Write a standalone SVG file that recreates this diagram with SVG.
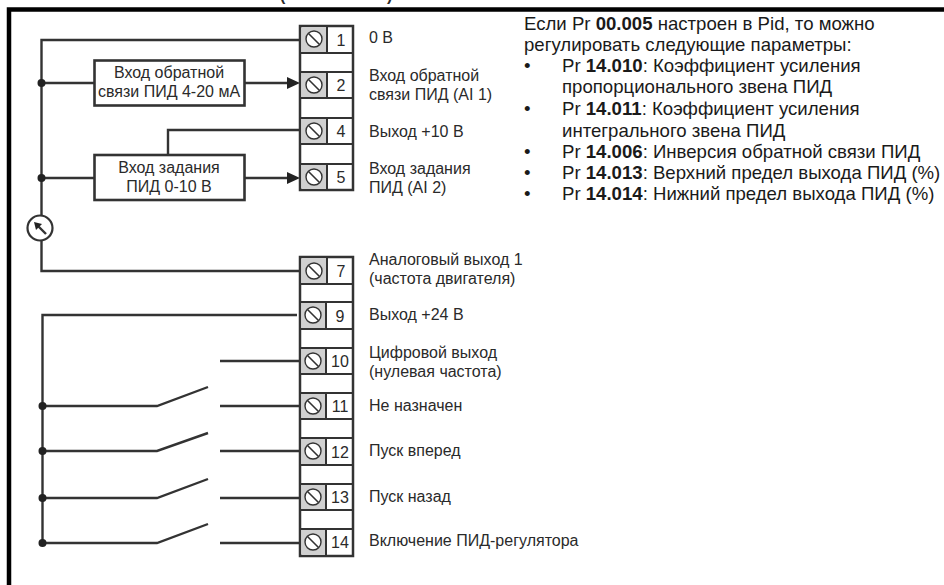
<svg xmlns="http://www.w3.org/2000/svg" width="944" height="585" viewBox="0 0 944 585">
<style>
text{font-family:"Liberation Sans",Arial,sans-serif;font-size:16px;fill:#2a2a2a}
.w{fill:none;stroke:#333;stroke-width:2.4}
.b{fill:#fff;stroke:#333;stroke-width:2.6}
.g{fill:#d0d0d0}
.n{fill:none;stroke:#333;stroke-width:2}
.s{fill:#fff;stroke:#333;stroke-width:1.4}
.c{text-anchor:middle}
.d{fill:#222}
#notes text{font-size:18.600px;fill:#1a1a1a}
</style>
<defs>
<g id="screw"><circle cx="0" cy="0" r="8" class="s"/><line x1="-5.500" y1="-5.500" x2="5.500" y2="5.500" stroke="#333" stroke-width="1.6"/></g>
</defs>
<path d="M9 600V9.500H950" fill="none" stroke="#000" stroke-width="4.500"/>
<text x="280" y="1" font-weight="bold">(</text><text x="387" y="1" font-weight="bold">)</text>
<g id="connectors">
<path class="w" d="M300 40H41.500V215"/>
<path class="w" d="M41.500 83H94M245 83H288M168 155V130H300M41.500 178H94M245 178H288"/>
<circle cx="40" cy="228" r="12.500" fill="#fff" stroke="#333" stroke-width="2.200"/>
<path class="w" d="M46 234L37 225" stroke-width="2"/>
<path d="M34 222L42 224L36 230Z" class="d"/>
<path class="w" d="M41.500 240V271H300M297 315H42.500V543"/>
<path class="w" d="M220 361H300M42.500 406H157L208 387M220 406H300M42.500 451H157L208 433M220 451H300M42.500 498H157L208 479M220 498H300M42.500 543H157L208 524M220 543H300"/>
<path d="M300 83l-13-6v12zM300 178l-13-6v12z" class="d"/>
<g class="d"><circle cx="41.500" cy="83" r="4"/><circle cx="41.500" cy="178" r="4"/><circle cx="42.500" cy="406" r="4"/><circle cx="42.500" cy="451" r="4"/><circle cx="42.500" cy="498" r="4"/><circle cx="42.500" cy="543" r="4"/></g>
</g>
<g id="box-feedback"><rect class="b" x="94.500" y="60.500" width="150" height="45"/><text class="c" x="169" y="78">Вход обратной</text><text class="c" x="169" y="97">связи ПИД 4-20 мА</text></g>
<g id="box-reference"><rect class="b" x="94.500" y="155" width="150" height="45"/><text class="c" x="169" y="173">Вход задания</text><text class="c" x="169" y="192">ПИД 0-10 В</text></g>
<g id="terminal-block-a">
<rect x="300" y="26" width="53" height="164" fill="#fff" stroke="#333" stroke-width="2.500"/>
<path class="g" d="M302 27H327V52H302zM302 73H327V97H302zM302 119H327V143H302zM302 165H327V189H302z"/>
<path class="n" d="M300 53H353M300 72H353M300 98H353M300 118H353M300 144H353M300 164H353"/>
<path class="n" d="M327 26V53M327 72V98M327 118V144M327 164V190"/>
</g>
<g id="terminal-1"><use href="#screw" x="314" y="39"/><text class="c" x="341" y="46">1</text></g>
<g id="terminal-2"><use href="#screw" x="314" y="85"/><text class="c" x="341" y="91">2</text></g>
<g id="terminal-4"><use href="#screw" x="314" y="131"/><text class="c" x="341" y="137">4</text></g>
<g id="terminal-5"><use href="#screw" x="314" y="177"/><text class="c" x="341" y="183">5</text></g>
<g id="terminal-block-b">
<rect x="300" y="257" width="53" height="299" fill="#fff" stroke="#333" stroke-width="2.500"/>
<path class="g" d="M302 258H327V283H302zM302 303H325V328H302zM302 349H325V373H302zM302 394H325V418H302zM302 439H325V464H302zM302 485H325V509H302zM302 530H325V555H302z"/>
<path class="n" d="M300 284H353M300 302H353M300 329H353M300 348H353M300 374H353M300 393H353M300 419H353M300 438H353M300 465H353M300 484H353M300 510H353M300 529H353"/>
<path class="n" d="M327 257V284M326 302V329M326 348V374M326 393V419M326 438V465M326 484V510M326 529V556"/>
</g>
<g id="terminal-7"><use href="#screw" x="314" y="271"/><text class="c" x="341" y="277">7</text></g>
<g id="terminal-9"><use href="#screw" x="313" y="315"/><text class="c" x="340" y="322">9</text></g>
<g id="terminal-10"><use href="#screw" x="313" y="361"/><text class="c" x="340" y="367">10</text></g>
<g id="terminal-11"><use href="#screw" x="313" y="406"/><text class="c" x="340" y="412">11</text></g>
<g id="terminal-12"><use href="#screw" x="313" y="451"/><text class="c" x="340" y="458">12</text></g>
<g id="terminal-13"><use href="#screw" x="313" y="497"/><text class="c" x="340" y="503">13</text></g>
<g id="terminal-14"><use href="#screw" x="313" y="542"/><text class="c" x="340" y="548">14</text></g>
<g id="labels">
<text x="369" y="43">0 В</text>
<text x="369" y="81">Вход обратной</text><text x="369" y="100">связи ПИД (AI 1)</text>
<text x="369" y="137">Выход +10 В</text>
<text x="369" y="174">Вход задания</text><text x="369" y="193">ПИД (AI 2)</text>
<text x="369" y="265">Аналоговый выход 1</text><text x="369" y="284">(частота двигателя)</text>
<text x="369" y="320">Выход +24 В</text>
<text x="369" y="358">Цифровой выход</text><text x="369" y="377">(нулевая частота)</text>
<text x="369" y="411">Не назначен</text>
<text x="369" y="456">Пуск вперед</text>
<text x="369" y="502">Пуск назад</text>
<text x="369" y="546">Включение ПИД-регулятора</text>
</g>
<g id="notes">
<text x="524" y="30">Если Pr <tspan font-weight="bold">00.005</tspan> настроен в Pid, то можно</text>
<text x="524" y="51">регулировать следующие параметры:</text>
<text x="524" y="72">•</text><text x="562" y="72">Pr <tspan font-weight="bold">14.010</tspan>: Коэффициент усиления</text>
<text x="562" y="93">пропорционального звена ПИД</text>
<text x="524" y="115">•</text><text x="562" y="115">Pr <tspan font-weight="bold">14.011</tspan>: Коэффициент усиления</text>
<text x="562" y="137">интегрального звена ПИД</text>
<text x="524" y="158">•</text><text x="562" y="158">Pr <tspan font-weight="bold">14.006</tspan>: Инверсия обратной связи ПИД</text>
<text x="524" y="179">•</text><text x="562" y="179">Pr <tspan font-weight="bold">14.013</tspan>: Верхний предел выхода ПИД (%)</text>
<text x="524" y="200">•</text><text x="562" y="200">Pr <tspan font-weight="bold">14.014</tspan>: Нижний предел выхода ПИД (%)</text>
</g>
</svg>
